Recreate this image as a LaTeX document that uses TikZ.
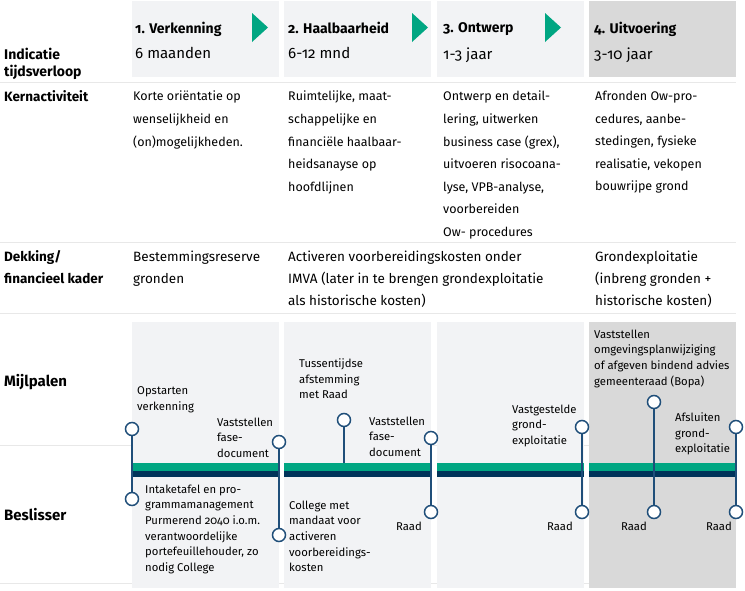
\documentclass[tikz,border=0pt]{standalone}
\usepackage{fontspec}
\setmainfont{Fira Sans}[Numbers=OldStyle]
\usetikzlibrary{positioning}
\definecolor{panel}{RGB}{242,243,245}
\definecolor{paneldark}{RGB}{217,217,217}
\definecolor{rule}{RGB}{232,232,232}
\definecolor{mint}{RGB}{0,166,130}
\definecolor{navy}{RGB}{0,51,90}
\definecolor{pin}{RGB}{31,78,121}

\begin{document}
\begin{tikzpicture}[x=1pt, y=-1pt,
   every node/.style={inner sep=0pt, anchor=north west, align=left},
   rowhead/.style={font=\fontsize{14}{17}\selectfont\bfseries},
   cell/.style={font=\fontsize{12.5}{22.6}\selectfont},
   cover/.style={font=\fontsize{13.5}{22}\selectfont},
   phase/.style={font=\fontsize{14}{16}\selectfont\bfseries},
   dur/.style={font=\fontsize{15}{17}\selectfont},
   mile/.style={font=\fontsize{11.3}{15.7}\selectfont},
   pinhead/.style={circle, draw=pin, line width=1.5pt, fill=white,
                   minimum size=13pt, anchor=center},
   pinline/.style={draw=pin, line width=1.5pt}]
  \fill[white] (0,0) rectangle (745,590);
  \useasboundingbox (0,0) rectangle (745,590);

  % row rules
  \foreach \y in {82,242,313,445,583}
    \draw[rule, line width=1pt] (0,\y) -- (736,\y);

  % phase columns, header and milestone panels, timeline
  \foreach \xa/\xb/\c in {132/279/panel, 284/431/panel,
                          437/584/panel, 589/736/paneldark} {
    \fill[\c] (\xa,1) rectangle (\xb,77);
    \fill[\c] (\xa,322) rectangle (\xb,588);
    \fill[mint] (\xa,463) rectangle (\xb,471);
    \fill[navy] (\xa,471) rectangle (\xb,477);
  }
  \foreach \x in {252,412,545}
    \fill[mint] (\x,13) -- (\x+16,27.5) -- (\x,42) -- cycle;

  % header
  \node[phase] (ph1) at (135,22) {1. Verkenning};
  \node[phase] (ph2) at (288,22) {2. Haalbaarheid};
  \node[phase] (ph3) at (443,22) {3. Ontwerp};
  \node[phase] (ph4) at (594,22) {4. Uitvoering};
  \node[dur] (du1) at (135,47.5) {6 maanden};
  \node[dur] (du2) at (288,47.5) {6-12 mnd};
  \node[dur] (du3) at (443,47.5) {1-3 jaar};
  \node[dur] (du4) at (594,47.5) {3-10 jaar};

  % row heads
  \node[rowhead] (hTijd) at (4,47.5) {Indicatie\\tijdsverloop};
  \node[rowhead, font=\fontsize{13.5}{17}\selectfont\bfseries] (hKern) at (4,90.5)
       {Kernactiviteit};
  \node[rowhead, font=\fontsize{13.5}{22}\selectfont\bfseries] (hDek) at (4,250.5)
       {Dekking/\\financieel kader};
  \node[rowhead, font=\fontsize{15}{17}\selectfont\bfseries] (hMijl) at (4,374)
       {Mijlpalen};
  \node[rowhead, font=\fontsize{15}{17}\selectfont\bfseries] (hBes) at (4,508)
       {Beslisser};

  % kernactiviteit
  \node[cell] (k1) at (133,91) {Korte oriëntatie op\\wenselijkheid en\\(on)mogelijkheden.};
  \node[cell] (k2) at (288,91) {Ruimtelijke, maat-\\schappelijke en\\financiële haalbaar-\\heidsanayse op\\hoofdlijnen};
  \node[cell] (k3) at (443,91) {Ontwerp en detail-\\lering, uitwerken\\business case (grex),\\uitvoeren risocoana-\\lyse, VPB-analyse,\\voorbereiden\\Ow- procedures};
  \node[cell] (k4) at (595,91) {Afronden Ow-pro-\\cedures, aanbe-\\stedingen, fysieke\\realisatie, vekopen\\bouwrijpe grond};

  % dekking
  \node[cover] (d1) at (133,250.5) {Bestemmingsreserve\\gronden};
  \node[cover] (d2) at (288,250.5) {Activeren voorbereidingskosten onder\\IMVA (later in te brengen grondexploitatie\\als historische kosten)};
  \node[cover] (d4) at (595,250.5) {Grondexploitatie\\(inbreng gronden +\\historische kosten)};

  % milestones
  \node[pinhead] (m1t) at (132,429) {};
  \node[pinhead] (m1b) at (132,499) {};
  \node[pinhead] (m2t) at (279,442) {};
  \node[pinhead] (m2b) at (279,535) {};
  \node[pinhead] (m3t) at (344,420) {};
  \coordinate (m3e) at (344,463);
  \node[pinhead] (m4t) at (431,438) {};
  \node[pinhead] (m4b) at (431,512) {};
  \node[pinhead] (m5t) at (582,427) {};
  \node[pinhead] (m5b) at (582,512) {};
  \node[pinhead] (m6t) at (654,402) {};
  \node[pinhead] (m6b) at (654,512) {};
  \node[pinhead] (m7t) at (736,427) {};
  \node[pinhead] (m7b) at (736,512) {};
  \draw[pinline] (m1t) -- (m1b);
  \draw[pinline] (m2t) -- (m2b);
  \draw[pinline] (m3t) -- (m3e);
  \draw[pinline] (m4t) -- (m4b);
  \draw[pinline] (m5t) -- (m5b);
  \draw[pinline] (m6t) -- (m6b);
  \draw[pinline] (m7t) -- (m7b);

  \node[mile] (l1) at (137,386.5) {Opstarten\\verkenning};
  \node[mile] (l2) at (217,417.5) {Vaststellen\\fase-\\document};
  \node[mile] (l3) at (299,358.5) {Tussentijdse\\afstemming\\met Raad};
  \node[mile] (l4) at (369,416.5) {Vaststellen\\fase-\\document};
  \node[mile] (l5) at (512,404.5) {Vastgestelde\\grond-\\exploitatie};
  \node[mile] (l6) at (594,329.5) {Vaststellen\\omgevingsplanwijziging\\of afgeven bindend advies\\gemeenteraad (Bopa)};
  \node[mile] (l7) at (675,412.5) {Afsluiten\\grond-\\exploitatie};

  \node[mile] (b1) at (145,484.5) {Intaketafel en pro-\\grammamanagement\\Purmerend 2040 i.o.m.\\verantwoordelijke\\portefeuillehouder, zo\\nodig College};
  \node[mile] (b2) at (289,500.5) {College met\\mandaat voor\\activeren\\voorbereidings-\\kosten};
  \node[mile, anchor=north east] (r4) at (422,521.5) {Raad};
  \node[mile, anchor=north east] (r5) at (573,521.5) {Raad};
  \node[mile, anchor=north east] (r6) at (647,521.5) {Raad};
  \node[mile, anchor=north east] (r7) at (732,521.5) {Raad};
\end{tikzpicture}
\end{document}
